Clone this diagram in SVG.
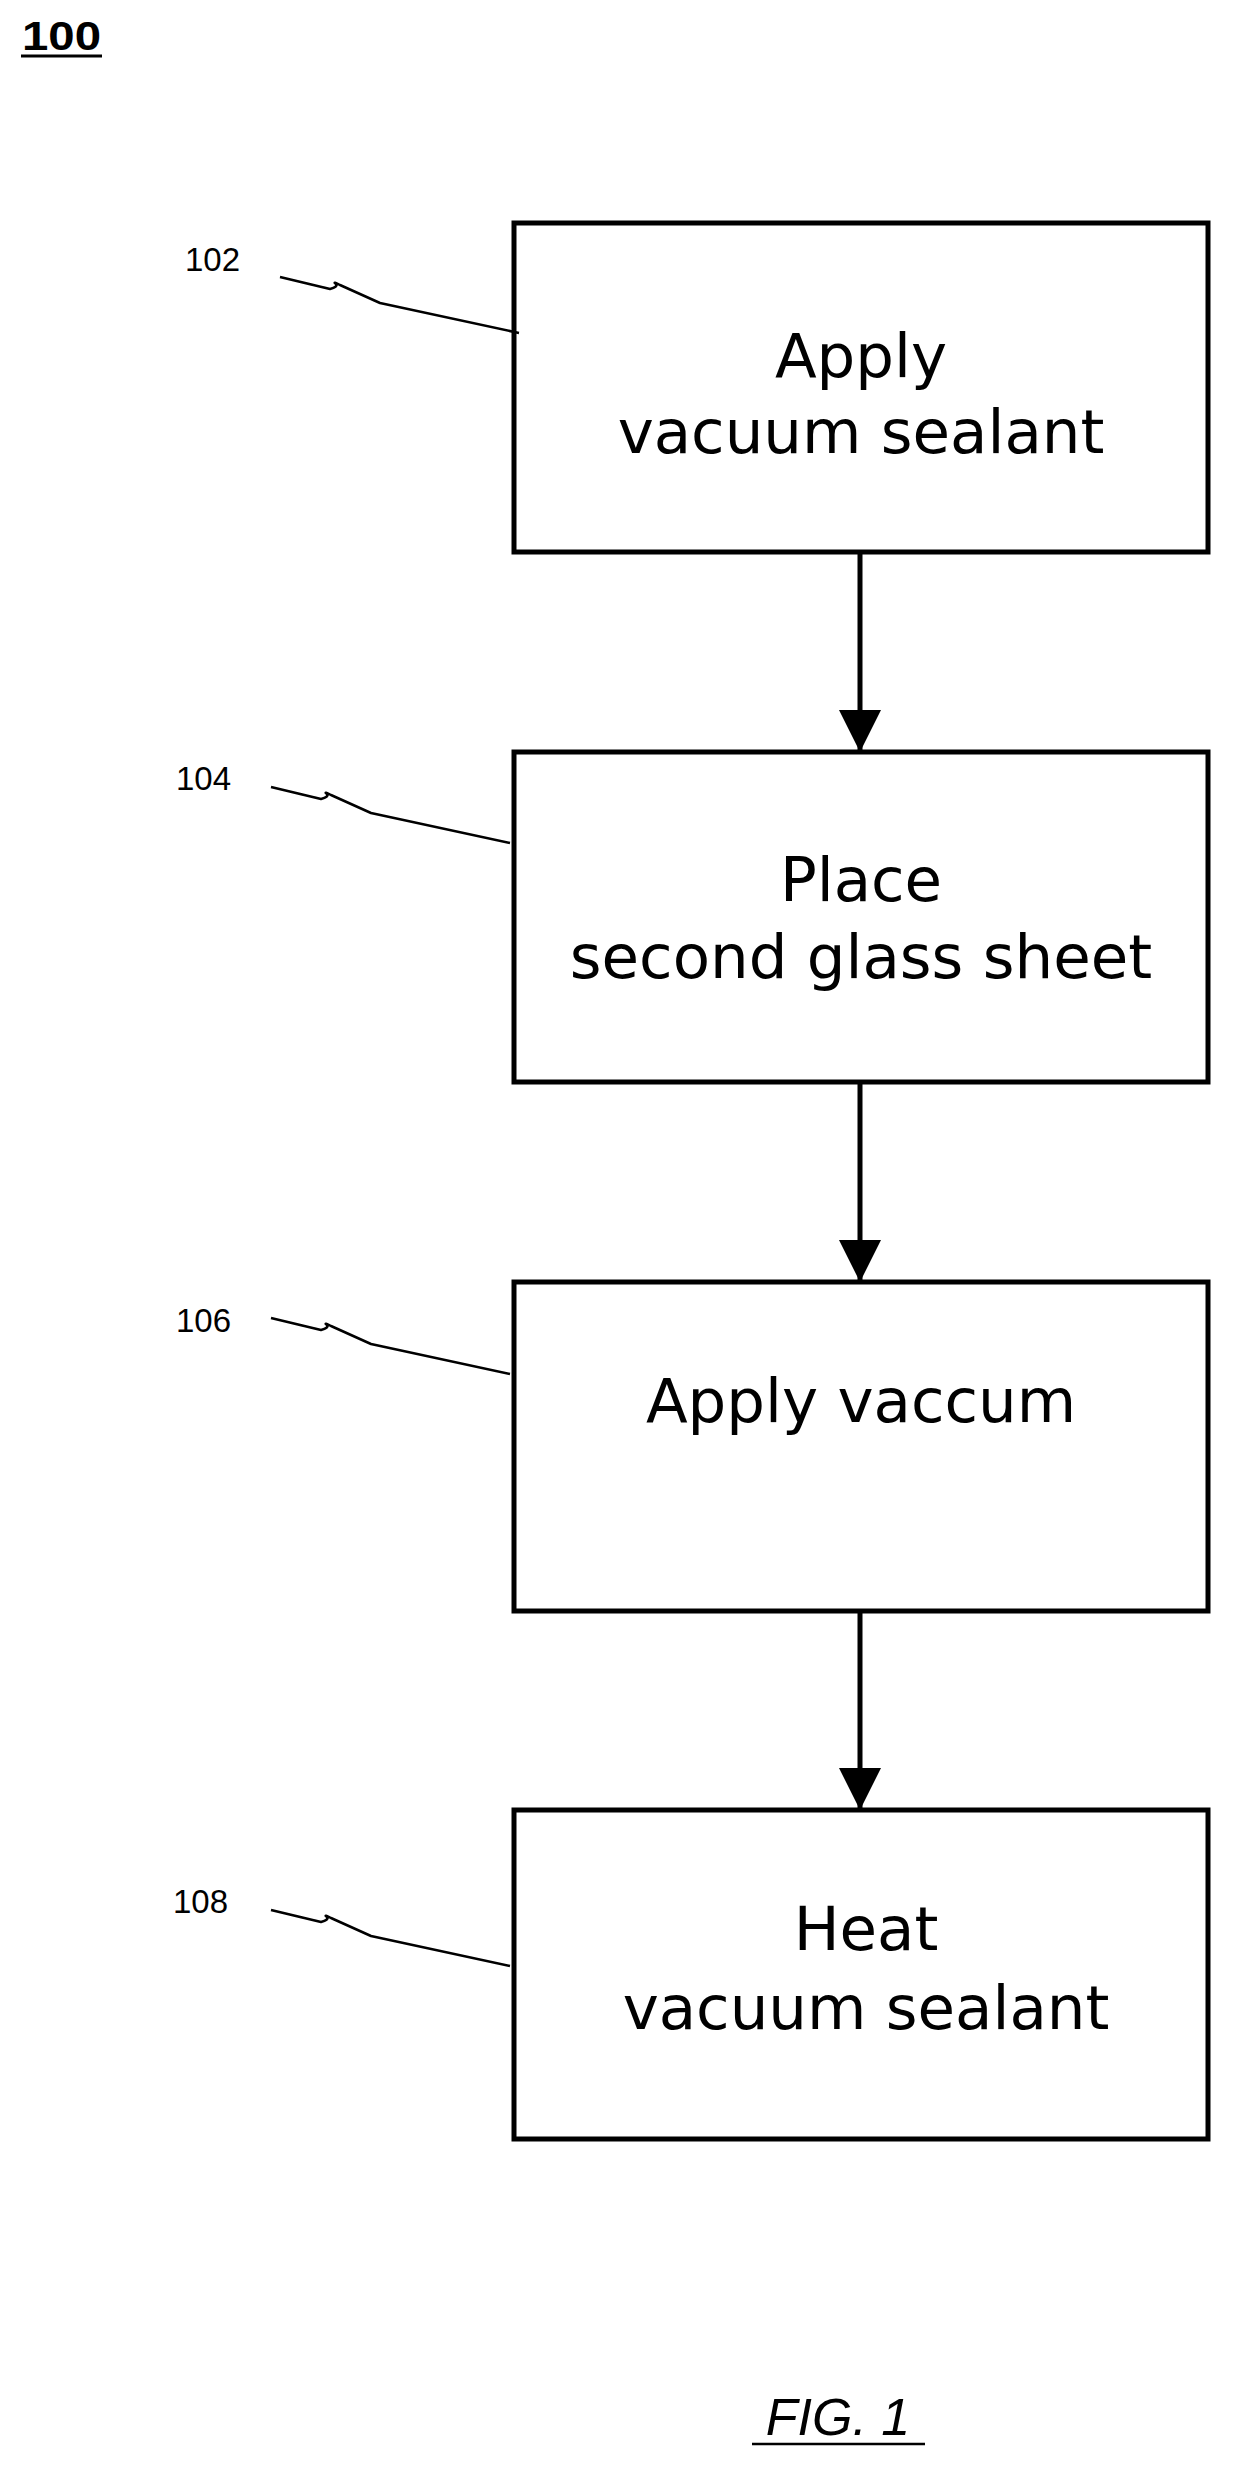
<svg xmlns="http://www.w3.org/2000/svg" xmlns:xlink="http://www.w3.org/1999/xlink" width="1233" height="2470" viewBox="0 0 1233 2470">
<style>
.box{fill:#fff;stroke:#000;stroke-width:5}
.t{font-family:"DejaVu Sans",sans-serif;font-size:61px;text-anchor:middle;fill:#000}
.lbl{font-family:"Liberation Sans Narrow","Liberation Sans",sans-serif;font-size:33px;fill:#000}
.ld{fill:none;stroke:#000;stroke-width:2.5;stroke-linejoin:round}
.ar{stroke:#000;stroke-width:5}
</style>
<defs>
<path id="lead" class="ld" d="M0,0 L50,12 Q58,10 56,7 Q52,4 60,8 L100,26 L239,56"/>
<marker id="ah" markerUnits="userSpaceOnUse" markerWidth="44" markerHeight="42" refX="44" refY="22" orient="auto" viewBox="0 0 44 44"><path d="M0,0 L44,22 L0,44 Z" fill="#000"/></marker>
</defs>
<rect width="1233" height="2470" fill="#fff"/>
<g id="title">
<text x="22" y="50" font-family="Liberation Sans Narrow,Liberation Sans,sans-serif" font-weight="bold" font-size="40" textLength="79" lengthAdjust="spacingAndGlyphs">100</text>
<line x1="21" y1="56" x2="102" y2="56" stroke="#000" stroke-width="3"/>
</g>
<g id="connectors">
<line class="ar" x1="860" y1="554" x2="860" y2="752" marker-end="url(#ah)"/>
<line class="ar" x1="860" y1="1084" x2="860" y2="1282" marker-end="url(#ah)"/>
<line class="ar" x1="860" y1="1613" x2="860" y2="1810" marker-end="url(#ah)"/>
</g>
<g id="n102">
<rect class="box" x="514" y="223" width="694" height="329"/>
<text class="t" x="861" y="377">Apply</text>
<text class="t" x="861" y="453">vacuum sealant</text>
<text class="lbl" x="185" y="271">102</text>
<use xlink:href="#lead" transform="translate(280,277)"/>
</g>
<g id="n104">
<rect class="box" x="514" y="752" width="694" height="330"/>
<text class="t" x="861" y="901">Place</text>
<text class="t" x="861" y="978">second glass sheet</text>
<text class="lbl" x="176" y="790">104</text>
<use xlink:href="#lead" transform="translate(271,787)"/>
</g>
<g id="n106">
<rect class="box" x="514" y="1282" width="694" height="329"/>
<text class="t" x="861" y="1422">Apply vaccum</text>
<text class="lbl" x="176" y="1332">106</text>
<use xlink:href="#lead" transform="translate(271,1318)"/>
</g>
<g id="n108">
<rect class="box" x="514" y="1810" width="694" height="329"/>
<text class="t" x="866" y="1950">Heat</text>
<text class="t" x="866" y="2029">vacuum sealant</text>
<text class="lbl" x="173" y="1913">108</text>
<use xlink:href="#lead" transform="translate(271,1910)"/>
</g>
<g id="fig">
<text x="838" y="2435" font-family="Liberation Sans,sans-serif" font-style="italic" font-size="52" text-anchor="middle">FIG. 1</text>
<line x1="752" y1="2444" x2="925" y2="2444" stroke="#000" stroke-width="2.5"/>
</g>
</svg>
